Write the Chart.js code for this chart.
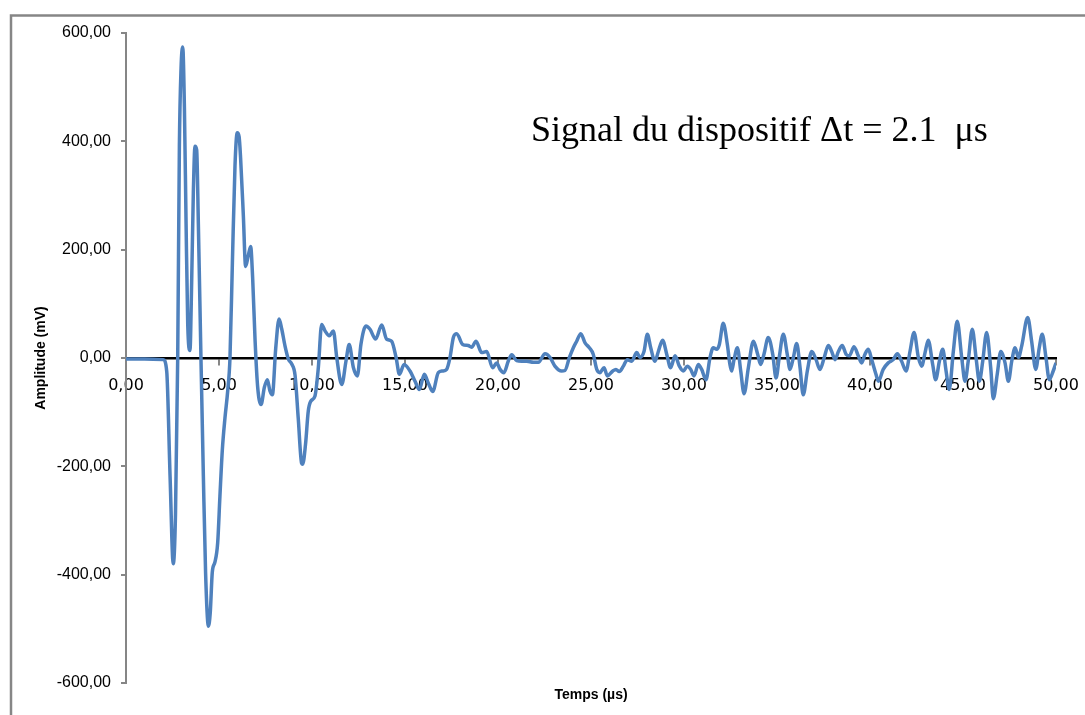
<!DOCTYPE html>
<html lang="fr">
<head>
<meta charset="utf-8">
<title>Signal du dispositif</title>
<script src="https://cdn.jsdelivr.net/npm/chart.js@4.4.1/dist/chart.umd.min.js"></script>
<style>
    html, body { margin: 0; padding: 0; background: #ffffff; }
    #signalChart { display: block; }
</style>
</head>
<body>
<canvas id="signalChart" width="1085" height="715"></canvas>
<script>
(function () {
    'use strict';

    // Temps (µs)
    const timeUs = [
        0, 1.0, 2.0, 2.19, 2.37, 2.54, 2.66, 2.78, 2.87, 2.96,
        3.05, 3.14, 3.23, 3.32, 3.44, 3.53, 3.62, 3.71, 3.8, 3.89,
        4.03, 4.16, 4.28, 4.43, 4.53, 4.64, 4.78, 4.93, 5.05, 5.18,
        5.32, 5.47, 5.59, 5.72, 5.86, 5.98, 6.08, 6.16, 6.31, 6.43,
        6.58, 6.7, 6.81, 6.94, 7.08, 7.26, 7.44, 7.6, 7.74, 7.87,
        8.05, 8.23, 8.37, 8.55, 8.73, 8.91, 9.09, 9.26, 9.44, 9.5,
        9.65, 9.8, 9.93, 10.16, 10.34, 10.52, 10.7, 10.93, 11.15, 11.33,
        11.6, 11.83, 12.0, 12.22, 12.44, 12.63, 12.9, 13.12, 13.42, 13.75,
        14.01, 14.28, 14.52, 14.7, 14.95, 15.27, 15.54, 15.77, 16.04, 16.25,
        16.49, 16.79, 17.02, 17.24, 17.42, 17.6, 17.78, 18.1, 18.4, 18.58,
        18.82, 19.12, 19.39, 19.71, 19.93, 20.11, 20.32, 20.56, 20.74, 21.0,
        21.27, 21.54, 21.9, 22.17, 22.53, 22.8, 23.06, 23.42, 23.6, 23.84,
        24.05, 24.23, 24.45, 24.68, 24.91, 25.12, 25.31, 25.48, 25.7, 25.88,
        26.17, 26.34, 26.52, 26.74, 26.95, 27.19, 27.46, 27.63, 27.85, 28.03,
        28.21, 28.44, 28.62, 28.85, 29.07, 29.28, 29.52, 29.75, 29.96, 30.18,
        30.36, 30.54, 30.77, 30.95, 31.18, 31.4, 31.57, 31.76, 31.9, 32.11,
        32.33, 32.47, 32.56, 32.69, 32.87, 33.05, 33.23, 33.46, 33.73, 33.96,
        34.12, 34.3, 34.53, 34.77, 34.95, 35.12, 35.34, 35.55, 35.7, 35.88,
        36.06, 36.24, 36.41, 36.63, 36.87, 37.1, 37.31, 37.54, 37.76, 37.94,
        38.12, 38.3, 38.51, 38.71, 38.89, 39.14, 39.37, 39.55, 39.73, 39.91,
        40.09, 40.32, 40.45, 40.71, 40.98, 41.25, 41.47, 41.7, 41.94, 42.15,
        42.37, 42.6, 42.78, 42.96, 43.13, 43.37, 43.53, 43.73, 43.91, 44.09,
        44.26, 44.48, 44.69, 44.93, 45.11, 45.28, 45.5, 45.7, 45.88, 46.06,
        46.27, 46.49, 46.63, 46.84, 47.03, 47.26, 47.44, 47.62, 47.8, 47.98,
        48.16, 48.48, 48.69, 48.91, 49.1, 49.26, 49.46, 49.64, 49.85, 50.0
    ];

    // Amplitude (mV)
    const amplitudeMv = [
        -2, -2, -3, -25, -219, -380, -290, 0, 391, 535,
        574, 463, 248, 61, 14, 140, 305, 391, 384, 248,
        0, -219, -398, -495, -470, -395, -377, -341, -255, -169,
        -111, -60, 0, 176, 355, 416, 409, 370, 262, 169,
        190, 206, 147, 32, -54, -86, -54, -40, -61, -68,
        18, 72, 54, 22, -2, -11, -32, -111, -194, -196,
        -160, -98, -80, -70, -18, 62, 50, 41, 50, 1,
        -49, -5, 25, -17, -33, 25, 59, 53, 35, 61,
        35, 31, 1, -30, -12, -24, -43, -58, -30, -46,
        -62, -27, -24, -21, 1, 38, 45, 25, 23, 20,
        31, 10, 12, -18, -9, -21, -27, -5, 6, -5,
        -6, -6, -8, -8, 8, 1, -15, -24, -23, 1,
        19, 31, 45, 28, 19, 7, -21, -27, -18, -33,
        -24, -21, -25, -15, -3, -6, 10, 1, 12, 44,
        19, -6, 12, 33, 7, -18, 4, -15, -24, -15,
        -21, -33, -12, -21, -40, 1, 19, 16, 25, 64,
        25, -12, -24, -3, 19, -24, -66, -18, 31, 7,
        -12, 7, 38, 7, -37, 1, 44, 7, -21, 1,
        27, -18, -68, -24, 12, -3, -21, 1, 23, 12,
        -3, 12, 23, 7, 4, 21, 4, -9, 7, 16,
        -3, -30, -43, -21, -9, -3, 8, -6, -24, 12,
        47, 1, -15, 10, 33, -12, -40, -6, 16, -24,
        -58, 12, 68, 1, -43, -6, 53, 1, -43, -6,
        47, -18, -75, -30, 12, -9, -43, -6, 19, 1,
        23, 75, 31, -21, 19, 44, 1, -40, -24, -9
    ];

    const xTicks = [0, 5, 10, 15, 20, 25, 30, 35, 40, 45, 50];
    const yTicks = [-600, -400, -200, 0, 200, 400, 600];

    const chartTitle = 'Signal du dispositif \u0394t = 2.1  \u03bcs';
    const xTitle = 'Temps (\u00b5s)';
    const yTitle = 'Amplitude (mV)';

    const AXIS_GREY = '#868686';
    const LINE_BLUE = '#4f81bd';

    function frenchNumber(value) {
        return Number(value).toFixed(2).replace('.', ',');
    }

    // white background, sheet frame and the free text labels
    const decorations = {
        id: 'decorations',
        beforeDraw: function (chart) {
            const ctx = chart.ctx;
            ctx.save();
            ctx.fillStyle = '#ffffff';
            ctx.fillRect(0, 0, chart.width, chart.height);
            ctx.strokeStyle = AXIS_GREY;
            ctx.lineWidth = 2.5;
            ctx.beginPath();
            ctx.moveTo(11, chart.height + 5);
            ctx.lineTo(11, 15.5);
            ctx.lineTo(chart.width + 5, 15.5);
            ctx.stroke();
            ctx.restore();
        },
        afterDraw: function (chart) {
            const ctx = chart.ctx;
            const area = chart.chartArea;
            ctx.save();
            ctx.fillStyle = '#000000';
            ctx.font = '36px "Liberation Serif", "Times New Roman", serif';
            ctx.textAlign = 'left';
            ctx.textBaseline = 'alphabetic';
            ctx.fillText(chartTitle, 531, 141);

            ctx.font = 'bold 14px "Liberation Sans", Arial, sans-serif';
            ctx.textAlign = 'center';
            ctx.textBaseline = 'middle';
            ctx.fillText(xTitle, (area.left + area.right) / 2, 695);
            ctx.restore();
        }
    };

    const points = timeUs.map(function (t, i) {
        return { x: t, y: amplitudeMv[i] };
    });

    new Chart(document.getElementById('signalChart'), {
        type: 'line',
        data: {
            datasets: [{
                label: 'Amplitude',
                data: points,
                borderColor: LINE_BLUE,
                borderWidth: 3.5,
                pointRadius: 0,
                fill: false,
                cubicInterpolationMode: 'monotone'
            }]
        },
        options: {
            responsive: false,
            animation: false,
            layout: {
                padding: { left: 0, top: 33, right: 29, bottom: 32 }
            },
            plugins: {
                legend: { display: false },
                tooltip: { enabled: false }
            },
            scales: {
                x: {
                    type: 'linear',
                    position: { y: 0 },
                    min: 0,
                    max: 50,
                    z: 1,
                    afterBuildTicks: function (scale) {
                        scale.ticks = xTicks.map(function (v) { return { value: v }; });
                    },
                    afterFit: function (scale) {
                        scale.paddingLeft = 0;
                        scale.paddingRight = 0;
                    },
                    border: { color: '#000000', width: 2.5 },
                    grid: {
                        drawOnChartArea: false,
                        drawTicks: true,
                        tickLength: 6,
                        color: AXIS_GREY,
                        lineWidth: 2
                    },
                    ticks: {
                        padding: 12,
                        maxRotation: 0,
                        color: '#000000',
                        font: { family: '"DejaVu Sans", Verdana, sans-serif', size: 16 },
                        callback: frenchNumber
                    }
                },
                y: {
                    type: 'linear',
                    position: 'left',
                    min: -600,
                    max: 600,
                    afterBuildTicks: function (scale) {
                        scale.ticks = yTicks.map(function (v) { return { value: v }; });
                    },
                    afterFit: function (scale) {
                        scale.width = 126;
                        scale.paddingTop = 0;
                        scale.paddingBottom = 0;
                    },
                    border: { color: AXIS_GREY, width: 2 },
                    grid: {
                        drawOnChartArea: false,
                        drawTicks: true,
                        tickLength: 5,
                        color: AXIS_GREY,
                        lineWidth: 2
                    },
                    ticks: {
                        padding: 10,
                        color: '#000000',
                        font: { family: '"Liberation Sans", Arial, sans-serif', size: 16 },
                        callback: frenchNumber
                    },
                    title: {
                        display: true,
                        text: yTitle,
                        color: '#000000',
                        font: { family: '"Liberation Sans", Arial, sans-serif', size: 14, weight: 'bold' },
                        padding: { top: 33, bottom: 0 }
                    }
                }
            }
        },
        plugins: [decorations]
    });
})();
</script>
</body>
</html>
